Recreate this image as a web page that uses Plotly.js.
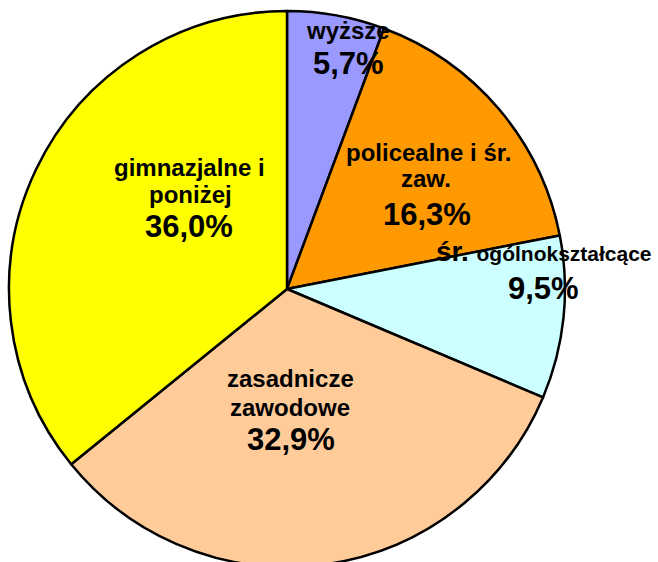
<!DOCTYPE html>
<html>
<head>
<meta charset="utf-8">
<script src="https://cdn.plot.ly/plotly-3.0.1.min.js"></script>
<style>
html,body{margin:0;padding:0;overflow:hidden;background:#fff;}
#chart{width:658px;height:568px;}
</style>
</head>
<body>
<div id="chart"></div>
<script>
// Data
var labels = ['wyższe', 'policealne i śr.\nzaw.', 'śr. ogólnokształcące', 'zasadnicze\nzawodowe', 'gimnazjalne i\nponiżej'];
var values = [5.7, 16.3, 9.5, 32.9, 36.0];
var colors = ['#9999FF', '#FF9900', '#CCFFFF', '#FFCC99', '#FFFF00'];

var W = 658, H = 568;
var FONT = 'Liberation Sans, Arial, sans-serif';

// label placement (pixel centers of each text line), layout only
var labelPos = [
  {lines: [[348, 31]], pct: [349, 64]},
  {lines: [[428, 153], [426, 178]], pct: [427, 214]},
  {lines: [[434, 251]], pct: [543, 288], left: true},
  {lines: [[290, 378], [290, 407]], pct: [291, 439]},
  {lines: [[189, 167], [190, 195]], pct: [189, 226]}
];

function fmt(v) { return v.toFixed(1).replace('.', ',') + '%'; }
function px(x) { return x / W; }
function py(y) { return 1 - y / H; }

var annotations = [];
labels.forEach(function (lab, i) {
  var pos = labelPos[i];
  var parts = lab.split('\n');
  parts.forEach(function (t, j) {
    var txt = t, size = 24;
    if (pos.left) {
      var sp = t.indexOf(' ');
      size = 28;
      txt = t.slice(0, sp) + ' <span style="font-size:21px">' + t.slice(sp + 1) + '</span>';
    }
    annotations.push({
      xref: 'paper', yref: 'paper', x: px(pos.lines[j][0]), y: py(pos.lines[j][1]),
      xanchor: pos.left ? 'left' : 'center', yanchor: 'middle', showarrow: false,
      text: txt, font: {family: FONT, size: size, color: '#000', weight: 700}
    });
  });
  annotations.push({
    xref: 'paper', yref: 'paper', x: px(pos.pct[0]), y: py(pos.pct[1]),
    xanchor: 'center', yanchor: 'middle', showarrow: false,
    text: fmt(values[i]), font: {family: FONT, size: 31, color: '#000', weight: 700}
  });
});

var trace = {
  type: 'pie',
  labels: labels.map(function (l) { return l.replace('\n', ' '); }),
  values: values,
  sort: false,
  direction: 'clockwise',
  rotation: 0,
  marker: {colors: colors, line: {color: '#000', width: 2.5}},
  textinfo: 'none',
  hoverinfo: 'none',
  showlegend: false,
  domain: {x: [9 / W, 565 / W], y: [1 - 567 / H, 1 - 11 / H]}
};

var layout = {
  width: W, height: H,
  margin: {l: 0, r: 0, t: 0, b: 0},
  paper_bgcolor: '#fff',
  showlegend: false,
  annotations: annotations
};

Plotly.newPlot('chart', [trace], layout, {displayModeBar: false, staticPlot: true});
</script>
</body>
</html>
